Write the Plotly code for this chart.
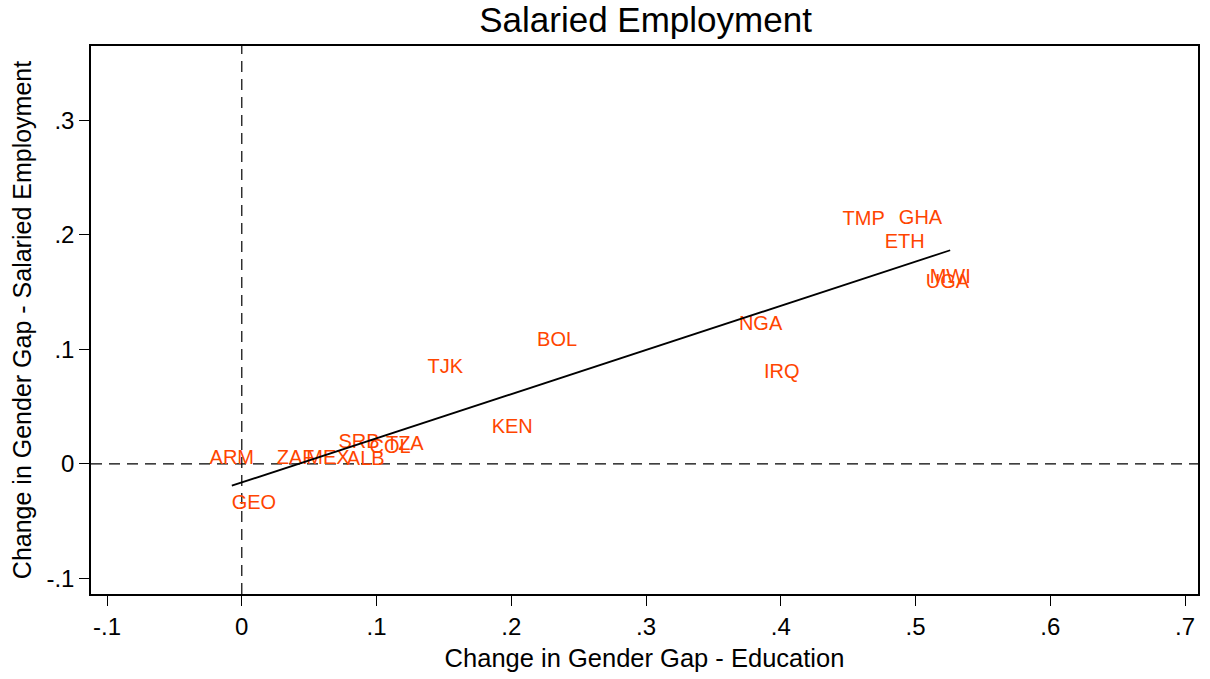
import plotly.graph_objects as go
import numpy as np

countries = ["ARM", "ZAF", "MEX", "ALB", "SRB", "COL", "TZA", "GEO", "KEN", "TJK",
             "BOL", "NGA", "IRQ", "TMP", "GHA", "ETH", "MWI", "UGA"]
edu_gap = [-0.0074, 0.040, 0.064, 0.092, 0.087, 0.110, 0.121, 0.009, 0.2007, 0.151,
           0.234, 0.385, 0.4007, 0.4615, 0.5037, 0.4919, 0.5257, 0.5237]
sal_gap = [0.0044, 0.004, 0.004, 0.0035, 0.018, 0.014, 0.0166, -0.035, 0.0315, 0.084,
           0.1076, 0.1216, 0.0796, 0.2126, 0.2135, 0.1925, 0.1619, 0.1575]

fit_intercept = -0.0163
fit_slope = 0.3857

x_ticks = [-0.1, 0, 0.1, 0.2, 0.3, 0.4, 0.5, 0.6, 0.7]
x_tick_labels = ["-.1", "0", ".1", ".2", ".3", ".4", ".5", ".6", ".7"]
y_ticks = [-0.1, 0, 0.1, 0.2, 0.3]
y_tick_labels = ["-.1", "0", ".1", ".2", ".3"]

FONT = "Liberation Sans, Arial, sans-serif"

fx = np.array([min(edu_gap), max(edu_gap)])
fy = fit_intercept + fit_slope * fx

fig = go.Figure()
fig.add_trace(go.Scatter(
    x=edu_gap, y=sal_gap, mode="text", text=countries,
    textposition="middle center",
    textfont=dict(family=FONT, size=20, color="#FF4500"),
    showlegend=False, hoverinfo="skip"))
fig.add_trace(go.Scatter(
    x=fx, y=fy, mode="lines", line=dict(color="black", width=1.8),
    showlegend=False, hoverinfo="skip"))

fig.add_shape(type="line", xref="x", yref="paper", x0=0, x1=0, y0=0, y1=1,
              line=dict(color="black", width=1.2, dash="11px,7px"), layer="below")
fig.add_shape(type="line", xref="paper", yref="y", x0=0, x1=1, y0=0, y1=0,
              line=dict(color="black", width=1.2, dash="11px,7px"), layer="below")

fig.update_layout(
    width=1210, height=679,
    margin=dict(l=91, r=10, t=46, b=85),
    paper_bgcolor="white", plot_bgcolor="white",
    title=dict(text="Salaried Employment", x=0.5335, xanchor="center",
               y=0.9705, yanchor="middle",
               font=dict(family=FONT, size=35, color="black")),
    font=dict(family=FONT, color="black"),
)
fig.update_xaxes(
    range=[-0.1119, 0.7096], tickvals=x_ticks, ticktext=x_tick_labels,
    showgrid=False, zeroline=False, showline=True, linecolor="black", linewidth=1.5,
    mirror=True, ticks="outside", ticklen=10, tickwidth=1.2, tickcolor="black",
    tickfont=dict(family=FONT, size=24),
    title=dict(text="Change in Gender Gap - Education", font=dict(family=FONT, size=25.5),
               standoff=11))
fig.update_yaxes(
    range=[-0.1137, 0.3648], tickvals=y_ticks, ticktext=y_tick_labels,
    showgrid=False, zeroline=False, showline=True, linecolor="black", linewidth=1.5,
    mirror=True, ticks="outside", ticklen=10, tickwidth=1.2, tickcolor="black",
    tickfont=dict(family=FONT, size=24),
    title=dict(text="Change in Gender Gap - Salaried Employment",
               font=dict(family=FONT, size=25), standoff=8))

fig.write_html("out.html")
